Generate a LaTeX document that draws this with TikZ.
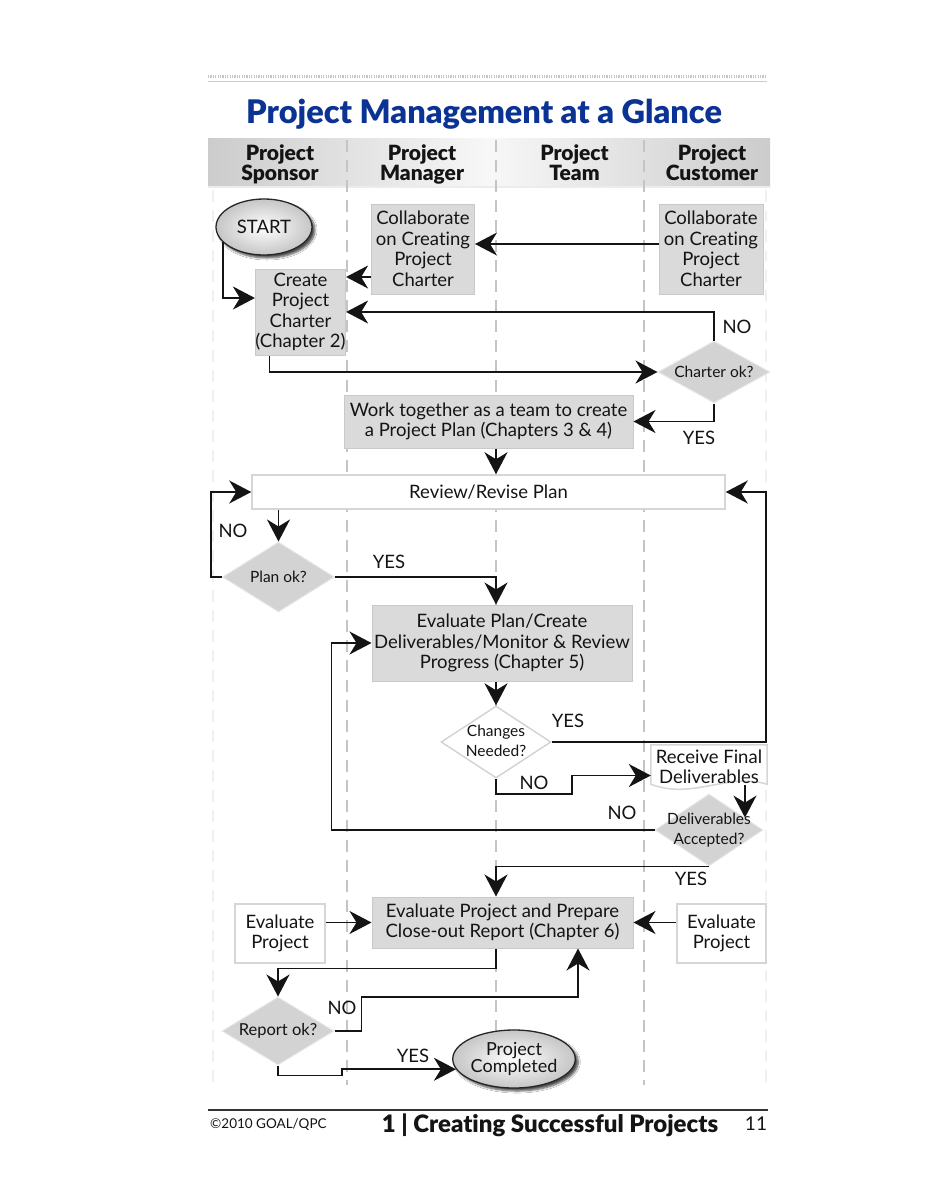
\documentclass[tikz,border=0pt]{standalone}
\usepackage{fontspec}
\setmainfont{Lato}[Ligatures=NoCommon]
\newfontfamily\blackfont{Lato Black}[Ligatures=NoCommon]
\usetikzlibrary{arrows.meta,shapes.geometric,shadows.blur,calc}
\definecolor{titleblue}{HTML}{0B3393}
\definecolor{boxgray}{HTML}{DADADA}
\definecolor{boxedge}{HTML}{C9C9C9}
\definecolor{diagray}{HTML}{D3D3D3}
\definecolor{lanegray}{HTML}{C4C4C4}
\definecolor{inkc}{HTML}{141414}
\tikzset{
  arr/.style={line width=1.8pt, draw=inkc, -{Stealth[length=22pt,width=23pt,inset=7pt]}},
  boxtext/.style={font=\fontsize{18.5}{20.5}\selectfont, text=inkc, align=center},
  gbox/.style={rectangle, fill=boxgray, draw=boxedge, line width=1pt, inner sep=0pt, boxtext},
  wbox/.style={rectangle, fill=white, draw=gray!32, line width=1.5pt, inner sep=0pt, boxtext},
  dia/.style={diamond, fill=diagray, draw=gray!18, line width=1pt, inner sep=0pt, text=inkc, font=\fontsize{15.5}{20}\selectfont},
  wdia/.style={diamond, fill=white, draw=gray!35, line width=1.4pt, inner sep=0pt, text=inkc, font=\fontsize{15.5}{20}\selectfont},
  term/.style={ellipse, draw=black!85, line width=1.3pt, inner color=white, outer color=gray!45,
     blur shadow={shadow xshift=3pt, shadow yshift=-3pt, shadow blur steps=6, shadow opacity=70},
     inner sep=0pt, align=center, text=inkc},
  lbl/.style={inner sep=0pt, text=inkc, font=\fontsize{18.5}{20}\selectfont},
  lane/.style={draw=lanegray, line width=1.5pt, dash pattern=on 12pt off 8pt},
  faintlane/.style={draw=gray!12, line width=1.5pt, dash pattern=on 12pt off 8pt},
  hdr/.style={font=\blackfont\fontsize{21}{20}\selectfont, align=center, inner sep=0pt, text=inkc, anchor=north}
}
\begin{document}
\begin{tikzpicture}[x=1pt,y=-1pt]
\useasboundingbox (0,0) rectangle (927,1200);
\fill[white] (0,0) rectangle (927,1200);

% top rules
\draw[gray!45, line width=3pt, dash pattern=on 1.2pt off 1.2pt] (208,76) -- (767,76);
\draw[gray!40, line width=1pt] (208,81) -- (767,81);

% title
\node[font=\blackfont\fontsize{32.5}{32}\selectfont, text=titleblue, inner sep=0pt] (title) at (484,114) {Project Management at a Glance};

% header bar
\shade[left color=gray!40, right color=gray!40, middle color=gray!6] (208,138) rectangle (770,187);
\draw[white!85!gray, line width=1.5pt] (208,187) -- (770,187);

% lanes
\foreach \x in {347,496,644} \draw[lane] (\x,140) -- (\x,1085);
\foreach \x in {213,766} \draw[faintlane] (\x,190) -- (\x,1085);

% header text
\node[hdr] (h1) at (280,145) {Project\\Sponsor};
\node[hdr] (h2) at (422,145) {Project\\Manager};
\node[hdr] (h3) at (574.5,145) {Project\\Team};
\node[hdr] (h4) at (712,145) {Project\\Customer};

% nodes
\node[term, minimum width=96, minimum height=56, font=\fontsize{18.5}{20}\selectfont] (start) at (264,227) {START};
\node[gbox, minimum width=103, minimum height=90] (collab1) at (423,249) {Collaborate\\on Creating\\Project\\Charter};
\node[gbox, minimum width=104, minimum height=90] (collab2) at (711,249) {Collaborate\\on Creating\\Project\\Charter};
\node[gbox, minimum width=87, minimum height=86] (create) at (300.5,312) {Create\\Project\\Charter\\(Chapter 2)};
\node[dia, minimum width=112, minimum height=62] (charter) at (714,372) {\makebox[0pt]{Charter ok?}};
\node[gbox, minimum width=289, minimum height=53] (work) at (488.5,421.5) {Work together as a team to create\\a Project Plan (Chapters 3 \& 4)};
\node[wbox, minimum width=473, minimum height=34] (review) at (488.5,492) {Review/Revise Plan};
\node[dia, minimum width=112, minimum height=70] (planok) at (278.5,577) {\makebox[0pt]{Plan ok?}};
\node[gbox, minimum width=260, minimum height=76] (eval) at (502,643) {Evaluate Plan/Create\\Deliverables/Monitor \& Review\\Progress (Chapter 5)};
\node[wdia, minimum width=110, minimum height=72] (changes) at (496,742) {\makebox[0pt]{\begin{tabular}{@{}c@{}}Changes\\Needed?\end{tabular}}};
\node[draw=none, minimum width=116, minimum height=39, inner sep=0pt] (receive) at (709,764.5) {};
\fill[white] (receive.north west) -- (receive.north east) -- (receive.south east)
   .. controls ($(receive.south east)+(-40,-12)$) and ($(receive.south east)+(-75,16)$) .. (receive.south west) -- cycle;
\draw[gray!32, line width=1.5pt] (receive.north west) -- (receive.north east) -- (receive.south east)
   .. controls ($(receive.south east)+(-40,-12)$) and ($(receive.south east)+(-75,16)$) .. (receive.south west) -- cycle;
\node[boxtext, inner sep=0pt] (receivetxt) at ($(receive.center)+(0,2)$) {Receive Final\\Deliverables};
\node[dia, minimum width=108, minimum height=72] (accepted) at (709,830) {\makebox[0pt]{\begin{tabular}{@{}c@{}}Deliverables\\Accepted?\end{tabular}}};
\node[gbox, minimum width=261, minimum height=51] (closeout) at (502.5,922.5) {Evaluate Project and Prepare\\Close-out Report (Chapter 6)};
\node[wbox, minimum width=90, minimum height=59] (evalL) at (280,933.5) {Evaluate\\Project};
\node[wbox, minimum width=89, minimum height=59] (evalR) at (721.5,933.5) {Evaluate\\Project};
\node[dia, minimum width=112, minimum height=68, font=\fontsize{16.5}{20}\selectfont] (report) at (278,1031) {\makebox[0pt]{Report ok?}};
\node[term, minimum width=96, minimum height=58, font=\fontsize{18}{17}\selectfont] (done) at (514,1059) {Project\\Completed};

% connectors
\coordinate (c1) at ($(create.west)+(0,-14)$);
\draw[arr] (start.200) |- (c1);
\coordinate (c2) at ($(collab1.west)+(0,28)$);
\draw[arr] (c2) -- (c2 -| create.east);
\coordinate (c3) at ($(collab2.west)+(0,-5)$);
\draw[arr] (c3) -- (c3 -| collab1.east);
\coordinate (c4) at ($(create.south)+(-31,0)$);
\draw[arr] (c4) |- (charter.west);
\draw[arr] (charter.north) |- (create.east);
\draw[arr] (charter.south) |- (work.east);
\coordinate (c7) at ($(work.south)+(7.5,0)$);
\draw[arr] (c7) -- (c7 |- review.north);
\draw[arr] (planok.north |- review.south) -- (planok.north);
\draw[arr] (planok.west) -- ++(-11,0) |- (review.west);
\coordinate (c10) at ($(eval.north)+(-6,0)$);
\draw[arr] (planok.east) -| (c10);
\draw[arr] (changes.north |- eval.south) -- (changes.north);
\draw[arr] (changes.east) -- ++(214,0) |- (review.east);
\coordinate (c13) at ($(receive.west)+(0,11)$);
\draw[arr] (changes.south) -- ++(0,15) -- ++(76,0) |- (c13);
\coordinate (c14) at ($(accepted.north)!0.66!(accepted.east)$);
\draw[arr] ($(c14 |- receive.south)+(0,1)$) -- (c14);
\draw[arr] (accepted.west) -- ++(-323,0) |- (eval.west);
\coordinate (c16) at ($(closeout.north)+(-6.5,0)$);
\draw[arr] (accepted.south) -| (c16);
\draw[arr] (closeout.west -| evalL.east) -- (closeout.west);
\draw[arr] (closeout.east -| evalR.west) -- (closeout.east);
\coordinate (c19) at ($(closeout.south)+(-6.5,0)$);
\draw[arr] (c19) -- ++(0,20) -| (report.north);
\coordinate (c20) at ($(closeout.south)+(75.5,0)$);
\draw[arr] (report.east) -- ++(27,0) -- ++(0,-34) -| (c20);
\draw[arr] (report.south) -- ++(0,10) -- ++(64,0) |- (done.190);

% edge labels
\node[lbl] (l1) at (737,327) {NO};
\node[lbl] (l2) at (699,438) {YES};
\node[lbl] (l3) at (233,531) {NO};
\node[lbl] (l4) at (389,562) {YES};
\node[lbl] (l5) at (568,721) {YES};
\node[lbl] (l6) at (534,783) {NO};
\node[lbl] (l7) at (622,813) {NO};
\node[lbl] (l8) at (691,879) {YES};
\node[lbl] (l9) at (342,1008) {NO};
\node[lbl] (l10) at (413,1056) {YES};

% footer
\draw[black!80, line width=2pt] (208,1110) -- (768,1110);
\node[inner sep=0pt, anchor=west, font=\fontsize{13.5}{14}\selectfont, text=inkc] (copy) at (210,1125) {©2010 GOAL/QPC};
\node[inner sep=0pt, font=\blackfont\fontsize{24}{24}\selectfont, text=inkc] (ftitle) at (550,1125) {1 | Creating Successful Projects};
\node[inner sep=0pt, font=\fontsize{19}{19}\selectfont, text=inkc] (pnum) at (756,1124) {11};
\end{tikzpicture}
\end{document}
